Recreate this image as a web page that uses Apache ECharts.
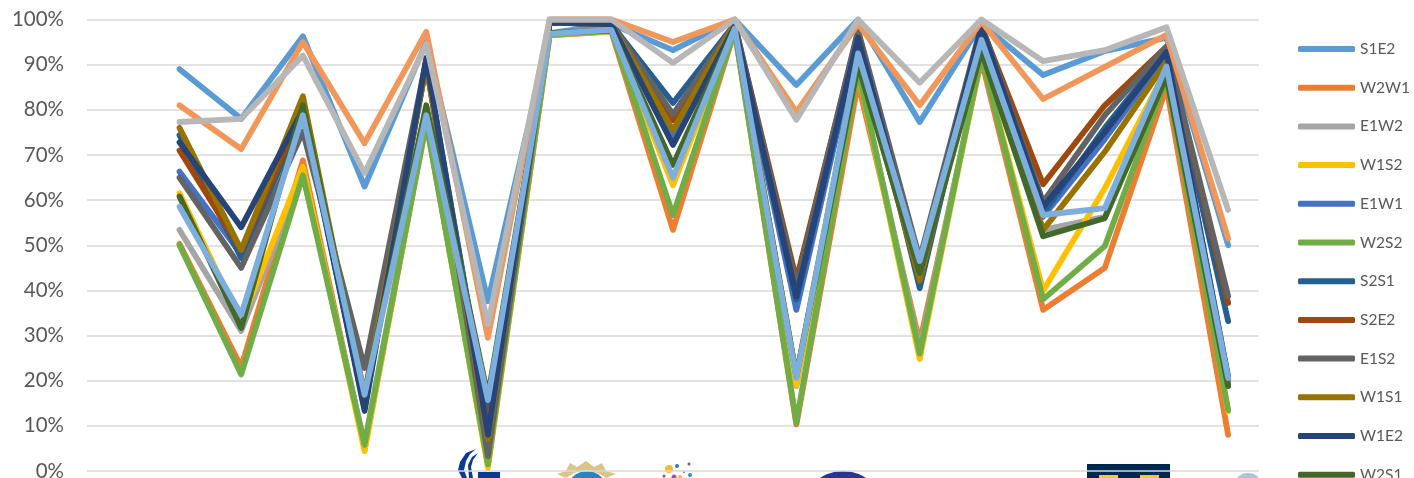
<!DOCTYPE html>
<html>
<head>
<meta charset="utf-8">
<style>html,body{margin:0;padding:0;background:#fff;overflow:hidden}#chart{width:1414px;height:478px}</style>
<script src="https://cdn.jsdelivr.net/npm/echarts@6/dist/echarts.min.js"></script>
</head>
<body>
<div id="chart"></div>
<script>
// Pairwise agreement per item; the first category slot stays empty.
const categories = ['c0','c1','c2','c3','c4','c5','c6','c7','c8','c9','c10','c11','c12','c13','c14','c15','c16','c17','c18'];
const yTicks = [0,10,20,30,40,50,60,70,80,90,100];

const S1E2 = [null,89,78,96.3,63,95,37.6,97,99,93.2,100,85.5,100,77.3,99,87.7,93,96,50];
const W2W1 = [null,50.3,23,68.8,5,77.3,1.5,96.5,97.3,53.4,97.5,10.3,86,28.5,91,35.7,45,85,8];
const E1W2 = [null,53.4,31,66,6,78,3,97,97.5,64,98,18.8,88.5,27,92,53.4,56.3,89,20];
const W1S2 = [null,61.5,33,67.4,4.4,78,0.7,96.6,97.4,63.3,97.8,19,88.5,24.8,92,39.9,62.6,89,13.2];
const E1W1 = [null,66.3,48,79,15,90,12,99.3,99,74,98.5,35.7,95,44,97,56.3,73.5,92,21];
const W2S2 = [null,50,21.4,65.5,5.8,77,1.5,96.6,97.5,56.7,97.5,10.7,88.8,26,92,38,49.8,87,13.5];
const S2S1 = [null,74.4,47.2,79,14,91,11,99.3,99,81.5,99,38,96,40.5,98,57,76,93,33.2];
const S2E2 = [null,71,49,80,17,90,9,99.3,99,77.7,99,42.3,97,45,98.5,63.5,81,94,37.2];
const E1S2 = [null,65,45,75.2,22.8,91,3.3,99.4,99.2,79,99,41,97.7,47,98.8,59.6,78.8,94,38.7];
const W1S1 = [null,76,49,83,16,90,7,99.3,99,75.5,99,21,92,42.2,97,53.4,70.7,90.6,19];
const W1E2 = [null,72.8,54,80,13.3,91.5,8,99.3,99,72.2,98.5,38.7,96,44.5,98.3,58.5,75,92.8,20.5];
const W2S1 = [null,60.8,31.7,81,16.8,81,16.5,97,97.6,67.8,98,21,90,43.8,93,52,56,87.4,18.8];
const S1E1 = [null,58.5,34.6,78.8,16.9,78.8,15.7,96.8,97.7,65,98,20.6,92.5,46.5,95.5,56.7,58.2,89.6,20.6];
const E1E2 = [null,81,71.3,95,72.6,97.3,29.5,100,100,95,100,79.5,99,81,99.5,82.4,89.5,96.6,51.5];
const E2W2 = [null,77.3,78,92,66,94.5,32.5,100,100,90.4,100,77.8,100,86,100,90.8,93.2,98.3,57.8];

const seriesNames = ['S1E2','W2W1','E1W2','W1S2','E1W1','W2S2','S2S1','S2E2','E1S2','W1S1','W1E2','W2S1','S1E1','E1E2','E2W2'];
const seriesValues = [S1E2,W2W1,E1W2,W1S2,E1W1,W2S2,S2S1,S2E2,E1S2,W1S1,W1E2,W2S1,S1E1,E1E2,E2W2];
const seriesColors = ['#5b9bd5','#ed7d31','#a5a5a5','#ffc000','#4472c4','#70ad47','#255e91','#9e480e','#636363','#997300','#264478','#43682b','#7cafdd','#f1975a','#b7b7b7'];

// Small institution marks sitting under the category axis, cut off by the page edge.
function dot(x, y, r, color) {
  return {type:'circle', z:-1, shape:{cx:x, cy:y, r:r}, style:{fill:color}};
}
function shapeOf(points, color) {
  return {type:'polygon', z:-1, shape:{points}, style:{fill:color}};
}
const emblems = [
  {type:'rect', z:-1, shape:{x:478,y:472,width:22,height:8}, style:{fill:'#0a3a94'}},
  shapeOf([[476,449],[466,453],[460,462],[458,470],[462,478],[467,478],[464,470],[466,461],[470,454]],'#0a3a94'),
  shapeOf([[478,453],[472,457],[468,465],[469,478],[473,478],[471,467],[473,460]],'#0a3a94'),
  dot(587,491,20,'#2b83c0'),
  shapeOf([[557,474],[566,471],[570,463],[577,467],[586,461],[594,467],[602,463],[606,471],[616,474],[606,478],[598,473],[586,470],[574,473],[566,478]],'#d9c48a'),
  dot(669,469,4,'#fdb92e'), dot(677,466,2,'#2a7ab9'), dot(689,464,1.5,'#666666'), dot(664,476,1.5,'#666666'),
  dot(674,477,2.5,'#a14fc0'), dot(680,477,2,'#fdb92e'), dot(690,475,2,'#1a9ad6'), dot(684,472,1,'#666666'),
  dot(843,512,41,'#2a3590'),
  {type:'rect', z:-1, shape:{x:1087,y:464,width:83,height:16}, style:{fill:'#00274c'}},
  {type:'rect', z:-1, shape:{x:1099,y:475,width:19,height:5}, style:{fill:'#ffcb05'}},
  {type:'rect', z:-1, shape:{x:1140,y:475,width:19,height:5}, style:{fill:'#ffcb05'}},
  dot(1248,488,15,'#a9c4dc')
];

const chart = echarts.init(document.getElementById('chart'), null, {renderer:'canvas'});
chart.setOption({
  animation:false,
  backgroundColor:'#ffffff',
  color:seriesColors,
  textStyle:{fontFamily:'Lato'},
  grid:{left:87,right:155,top:19.5,bottom:7,containLabel:false,outerBoundsMode:'none'},
  graphic:emblems,
  legend:{
    orient:'vertical', left:1293, top:36, height:800,
    data:seriesNames, icon:'roundRect', itemWidth:57, itemHeight:6, itemGap:22.7,
    textStyle:{fontFamily:'Lato',fontSize:15.5,color:'#595959',lineHeight:16},
    selectedMode:false
  },
  xAxis:{type:'category',data:categories,boundaryGap:true,
    axisLine:{show:false},axisTick:{show:false},axisLabel:{show:false},splitLine:{show:false}},
  yAxis:{type:'value',min:yTicks[0],max:yTicks[yTicks.length-1],interval:10,
    axisLine:{show:false},axisTick:{show:false},
    axisLabel:{formatter:'{value}%',fontFamily:'Lato',fontSize:20.5,color:'#595959',margin:23},
    splitLine:{lineStyle:{color:'#d9d9d9',width:1.5}}},
  series:seriesNames.map((name,i)=>({
    name,type:'line',data:seriesValues[i],symbol:'none',clip:false,connectNulls:false,
    lineStyle:{width:5.8,color:seriesColors[i],cap:'round',join:'round'},
    itemStyle:{color:seriesColors[i]},emphasis:{disabled:true}
  }))
});
</script>
</body>
</html>
